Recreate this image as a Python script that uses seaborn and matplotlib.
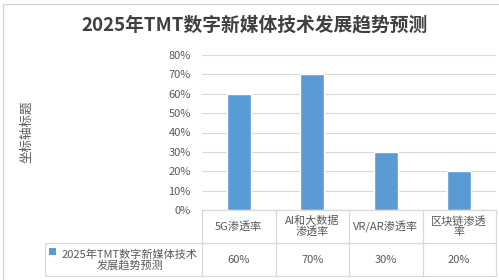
import matplotlib
matplotlib.use("Agg")
import matplotlib.pyplot as plt
import matplotlib.transforms as mtransforms
from matplotlib.patches import Rectangle
import seaborn as sns
import pandas as pd

categories = ["5G渗透率", "AI和大数据渗透率", "VR/AR渗透率", "区块链渗透率"]
header_labels = ["5G渗透率", "AI和大数据\n渗透率", "VR/AR渗透率", "区块链渗透\n率"]
values = [0.60, 0.70, 0.30, 0.20]
series_name = "2025年TMT数字新媒体技术发展趋势预测"
title = "2025年TMT数字新媒体技术发展趋势预测"
y_label = "坐标轴标题"
y_ticks = [0, 0.1, 0.2, 0.3, 0.4, 0.5, 0.6, 0.7, 0.8]

sns.set_theme(style="white")
plt.rcParams['font.family'] = ['Noto Sans CJK SC', 'DejaVu Sans']

W, H = 499, 280
fig = plt.figure(figsize=(W / 100, H / 100), dpi=100)

def fx(px):
    return px / W

def fy(py):
    return 1 - py / H

blue = "#5B9BD5"
grid_c = "#D9D9D9"
text_c = "#595959"

# axes: x from 203 to 496, y 0% at 210, 80% at 55
x0, x1 = 202, 496
y0, y1 = 210, 55
ax = fig.add_axes([fx(x0), fy(y0), fx(x1) - fx(x0), fy(y1) - fy(y0)])

df = pd.DataFrame({"cat": categories, "val": values})
sns.barplot(data=df, x="cat", y="val", color=blue, width=0.33, ax=ax,
            saturation=1, zorder=3)
ax.set_xlim(-0.5, len(categories) - 0.5)
ax.set_ylim(0, 0.8)
ax.set_yticks(y_ticks)
ax.set_yticklabels([f"{int(round(t * 100))}%" for t in y_ticks], color=text_c, fontsize=8)
ax.tick_params(axis="y", length=0, pad=8)
ax.set_xticks([])
ax.set_xlabel("")
ax.set_ylabel("")
for s in ax.spines.values():
    s.set_visible(False)
ax.yaxis.grid(True, color=grid_c, linewidth=0.8, zorder=0)
ax.set_axisbelow(True)

# title and y label
fig.text(fx(255), fy(25), title, ha="center", va="center", fontsize=13.5,
         fontweight="bold", color="#404040")
fig.text(fx(27), fy(132), y_label, ha="center", va="center", rotation=90,
         fontsize=9, color=text_c)

# data table below axis
line_kw = dict(color=grid_c, linewidth=0.9)
fig.add_artist(plt.Line2D([fx(x0), fx(x1)], [fy(210), fy(210)], **line_kw))
fig.add_artist(plt.Line2D([fx(45), fx(x1)], [fy(243), fy(243)], **line_kw))
fig.add_artist(plt.Line2D([fx(45), fx(x1)], [fy(276), fy(276)], **line_kw))
fig.add_artist(plt.Line2D([fx(45), fx(45)], [fy(243), fy(276)], **line_kw))

trans = mtransforms.blended_transform_factory(ax.transData, fig.transFigure)
n = len(categories)
for b in [i - 0.5 for i in range(n + 1)]:
    ax.plot([b, b], [fy(210), fy(276)], transform=trans, clip_on=False, **line_kw)
for i, (lab, v) in enumerate(zip(header_labels, values)):
    ax.text(i, fy(226.5), lab, transform=trans, ha="center", va="center",
            fontsize=8, color=text_c, linespacing=1.0)
    ax.text(i, fy(260), f"{int(round(v * 100))}%", transform=trans, ha="center",
            va="center", fontsize=8, color=text_c)

# legend key cell
fig.add_artist(Rectangle((fx(49), fy(255)), fx(7), fy(0) - fy(7), transform=fig.transFigure,
                         facecolor=blue, edgecolor="none"))
fig.text(fx(130), fy(260), "2025年TMT数字新媒体技术\n发展趋势预测", ha="center", va="center",
         fontsize=8, color=text_c, linespacing=1.0)

# chart border
fig.add_artist(plt.Line2D([fx(3), fx(3)], [fy(4), fy(280)], color="#D0D0D0", linewidth=0.8))
fig.add_artist(plt.Line2D([fx(3), fx(499)], [fy(4), fy(4)], color="#D0D0D0", linewidth=0.8))

fig.savefig("out.png", dpi=100)
